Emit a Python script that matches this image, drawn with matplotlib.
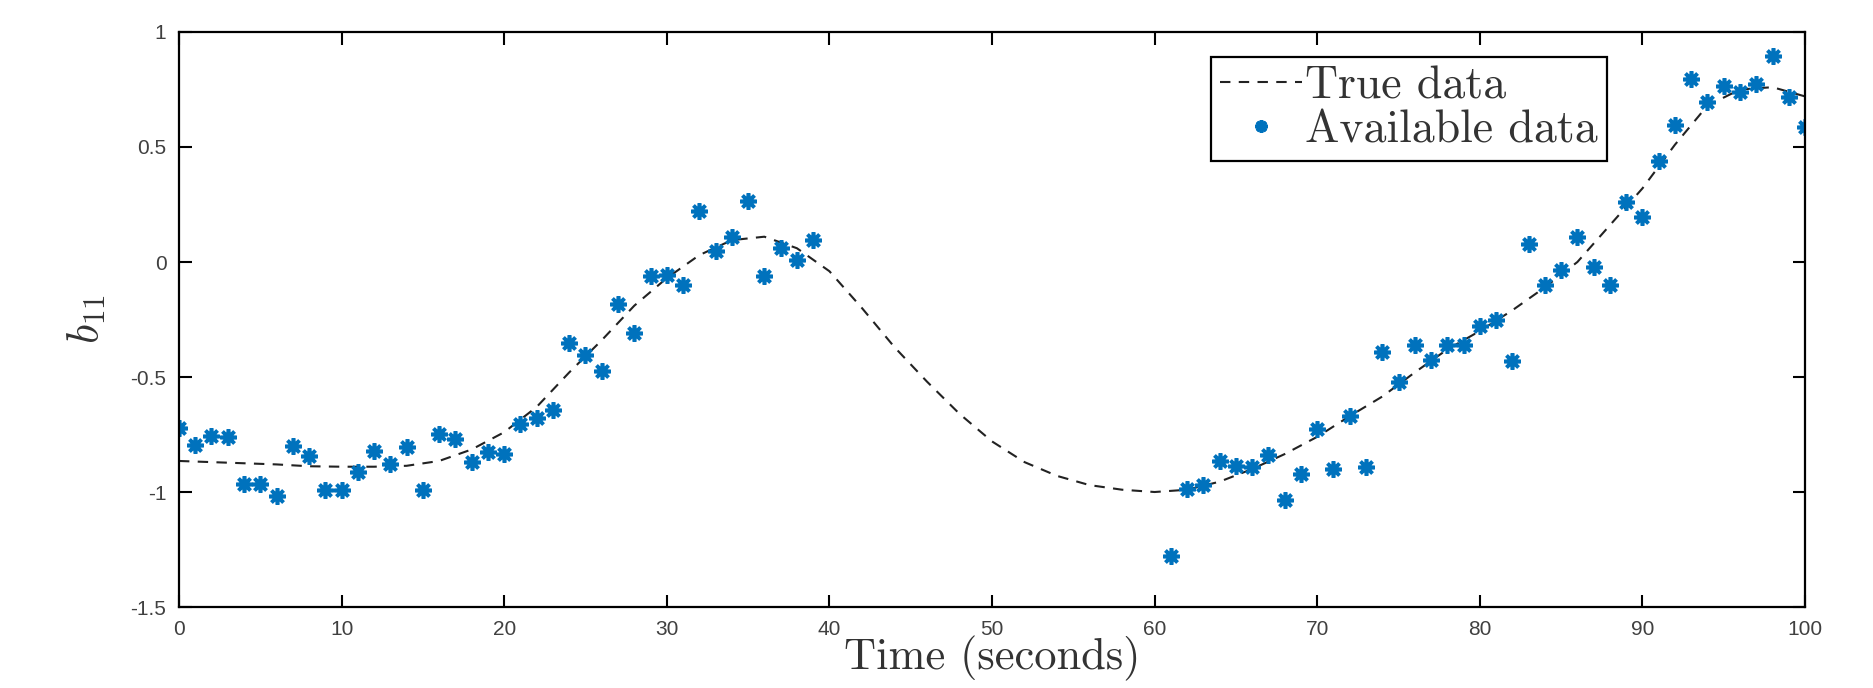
import matplotlib
matplotlib.use("Agg")
import matplotlib.pyplot as plt

true_t = [0, 2, 4, 6, 8, 10, 12, 14, 16, 18, 20, 22, 24, 26, 28, 30, 32, 34, 36, 38,
          40, 42, 44, 46, 48, 50, 52, 54, 56, 58, 60, 62, 64, 66, 68, 70, 72, 74, 76, 78,
          80, 82, 84, 86, 88, 90, 92, 94, 96, 98, 100]
true_b = [-0.865, -0.87, -0.875, -0.88, -0.888, -0.89, -0.89, -0.886, -0.865, -0.815,
          -0.74, -0.63, -0.48, -0.34, -0.19, -0.07, 0.03, 0.095, 0.11, 0.06,
          -0.04, -0.2, -0.37, -0.52, -0.66, -0.78, -0.87, -0.93, -0.97, -0.99,
          -1.0, -0.99, -0.955, -0.9, -0.835, -0.76, -0.67, -0.585, -0.48, -0.38,
          -0.30, -0.21, -0.11, 0.0, 0.16, 0.32, 0.51, 0.68, 0.75, 0.76, 0.72]

# available samples, first block 0..39 s
avail_t1 = list(range(0, 40))
avail_b1 = [-0.72, -0.796, -0.756, -0.76, -0.964, -0.964, -1.017, -0.80, -0.845, -0.99,
            -0.99, -0.914, -0.82, -0.878, -0.806, -0.99, -0.746, -0.77, -0.87, -0.828,
            -0.835, -0.705, -0.677, -0.644, -0.35, -0.404, -0.476, -0.184, -0.307, -0.06,
            -0.058, -0.098, 0.222, 0.046, 0.11, 0.265, -0.06, 0.06, 0.01, 0.097]

# second block 61..100 s
avail_t2 = list(range(61, 101))
avail_b2 = [-1.28, -0.985, -0.97, -0.864, -0.885, -0.89, -0.84, -1.036, -0.92, -0.727,
            -0.90, -0.67, -0.89, -0.39, -0.52, -0.36, -0.425, -0.36, -0.36, -0.28,
            -0.25, -0.43, 0.078, -0.098, -0.033, 0.11, -0.02, -0.098, 0.262, 0.197,
            0.44, 0.594, 0.795, 0.695, 0.767, 0.738, 0.774, 0.896, 0.716, 0.586]

x_ticks = list(range(0, 101, 10))
y_ticks = [-1.5, -1, -0.5, 0, 0.5, 1]
y_tick_labels = ["-1.5", "-1", "-0.5", "0", "0.5", "1"]

plt.rcParams['mathtext.fontset'] = 'cm'
plt.rcParams['axes.unicode_minus'] = False

fig = plt.figure(figsize=(18.74, 6.88), dpi=100)
ax = fig.add_axes([0.0955, 0.1177, 0.8677, 0.8358])

ax.plot(true_t, true_b, color='#222222', linestyle=(0, (5, 4)), linewidth=1.5,
        label='True data')
ax.plot(avail_t1 + avail_t2, avail_b1 + avail_b2, linestyle='none',
        marker=(8, 2, 0), markersize=12, markeredgewidth=2.6,
        color='#0072BD', label='Available data')

ax.set_xlim(0, 100)
ax.set_ylim(-1.5, 1)
ax.set_xticks(x_ticks)
ax.set_yticks(y_ticks)
ax.set_yticklabels(y_tick_labels)
ax.tick_params(direction='in', top=True, right=True, length=9, width=1.5,
               labelsize=15, labelcolor='#404040', pad=9)
for lab in ax.get_xticklabels() + ax.get_yticklabels():
    lab.set_family('Liberation Sans')
for sp in ax.spines.values():
    sp.set_linewidth(1.6)

ax.set_xlabel('Time (seconds)', family='cmr10', fontsize=32, labelpad=-2,
              color='#333333')
ax.set_ylabel(r'$b_{11}$', fontsize=32, labelpad=16, color='#333333')

leg = ax.legend(loc='upper right', bbox_to_anchor=(0.878, 0.957), borderaxespad=0,
                prop={'family': 'cmr10', 'size': 33}, fancybox=False,
                edgecolor='black', framealpha=1, handlelength=1.8,
                handletextpad=0.05, labelspacing=0.05, borderpad=0.2,
                markerscale=0.75)
leg.get_frame().set_linewidth(1.6)
for t in leg.get_texts():
    t.set_color('#333333')

fig.savefig('out.png', dpi=100)
